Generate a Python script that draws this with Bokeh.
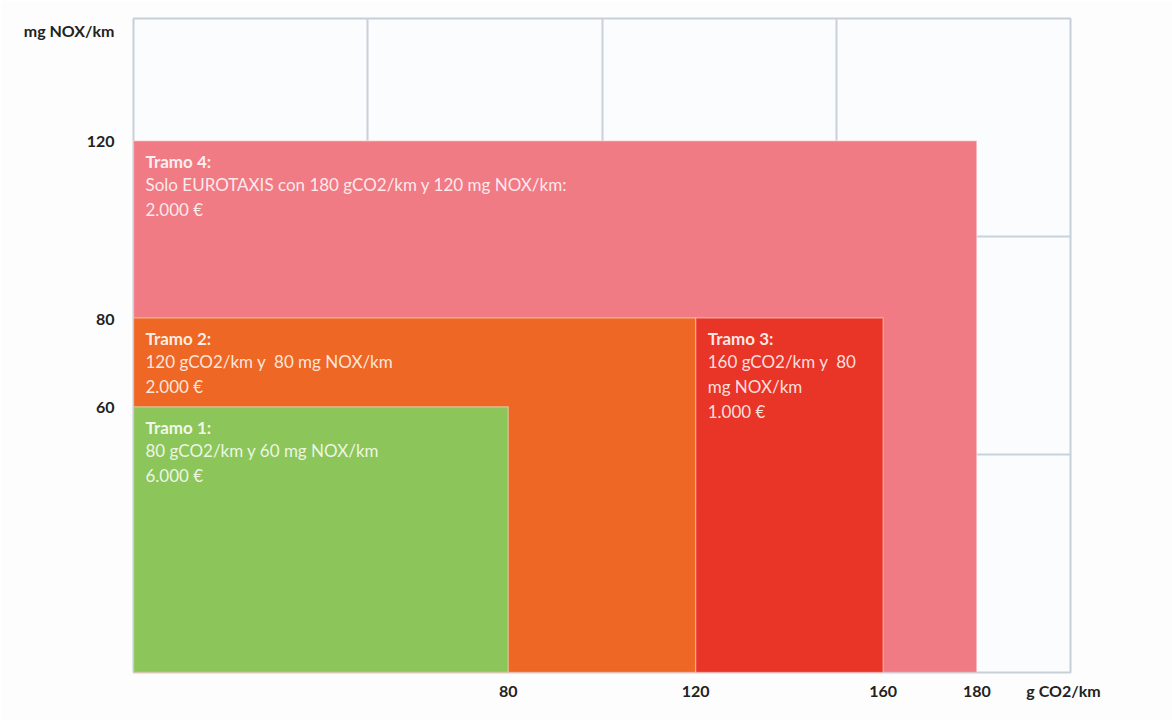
from bokeh.plotting import figure
from bokeh.models import FixedTicker, ColumnDataSource
from bokeh.embed import file_html
from bokeh.resources import INLINE
from bokeh.core.properties import value

# Subsidy bands: emission limits (g CO2/km, mg NOX/km) and the amount granted
tramos = ["Tramo 4:", "Tramo 2:", "Tramo 3:", "Tramo 1:"]
co2_desde = [0, 0, 120, 0]
co2_hasta = [180, 120, 160, 80]
nox_hasta = [120, 80, 80, 60]
colores = ["#f17b85", "#ee6724", "#e93428", "#8cc65a"]
detalles = [
    "Solo EUROTAXIS con 180 gCO2/km y 120 mg NOX/km:\n2.000 €",
    "120 gCO2/km y \u00a080 mg NOX/km\n2.000 €",
    "160 gCO2/km y \u00a080\nmg NOX/km\n1.000 €",
    "80 gCO2/km y 60 mg NOX/km\n6.000 €",
]

# Axis ticks (the unit names sit at the far end of each axis)
x_ticks = [80, 120, 160, 180]
y_ticks = [60, 80, 120]
x_title, x_title_pos = "g CO2/km", 198.5
y_title, y_title_pos = "mg NOX/km", 144.9

# plot extent and the background table grid
x_max = 200
y_max = 147.6
grid_x = [50, 100, 150]
grid_y = [y_max / 3, 2 * y_max / 3]

FONT = "Lato"

src = ColumnDataSource(dict(
    tramo=tramos, left=co2_desde, right=co2_hasta,
    bottom=[0] * len(tramos), top=nox_hasta, color=colores, detalle=detalles,
))

p = figure(
    width=1172, height=720,
    x_range=(0, x_max), y_range=(0, y_max),
    output_backend="svg", toolbar_location=None,
    min_border_left=133, min_border_right=102,
    min_border_top=18, min_border_bottom=48,
)
p.background_fill_color = "#fbfcfd"
p.border_fill_color = "#fdfdfd"
p.outline_line_color = "#c7cfd9"
p.outline_line_width = 2

p.xgrid.ticker = FixedTicker(ticks=grid_x)
p.ygrid.ticker = FixedTicker(ticks=grid_y)
for g in (p.xgrid, p.ygrid):
    g.grid_line_color = "#c9d1db"
    g.grid_line_width = 2

for ax, ticks, title, pos in ((p.xaxis, x_ticks, x_title, x_title_pos),
                              (p.yaxis, y_ticks, y_title, y_title_pos)):
    ax.ticker = FixedTicker(ticks=ticks + [pos])
    ax.major_label_overrides = {pos: title}
    ax.axis_line_color = None
    ax.major_tick_line_color = None
    ax.minor_tick_line_color = None
    ax.major_label_text_font = FONT
    ax.major_label_text_font_style = "bold"
    ax.major_label_text_font_size = "16px"
    ax.major_label_text_color = "#222222"
p.xaxis.major_label_standoff = 2
p.yaxis.major_label_standoff = 13

# bands, largest first so the smaller ones sit on top
p.quad(left="left", right="right", bottom="bottom", top="top",
       fill_color="color", line_color="white", line_alpha=0.35, line_width=1.5,
       source=src)

# band texts: bold heading plus the conditions
p.text(x="left", y="top", text="tramo", source=src,
       x_offset=12, y_offset=10, text_baseline="top", text_align="left",
       text_font=value(FONT), text_font_style="bold", text_font_size="17px",
       text_color="white", text_alpha=0.9)
p.text(x="left", y="top", text="detalle", source=src,
       x_offset=12, y_offset=33, text_baseline="top", text_align="left",
       text_font=value(FONT), text_font_size="17px", text_line_height=1.2,
       text_color="white", text_alpha=0.85)

open("out.html", "w").write(file_html(p, INLINE))
